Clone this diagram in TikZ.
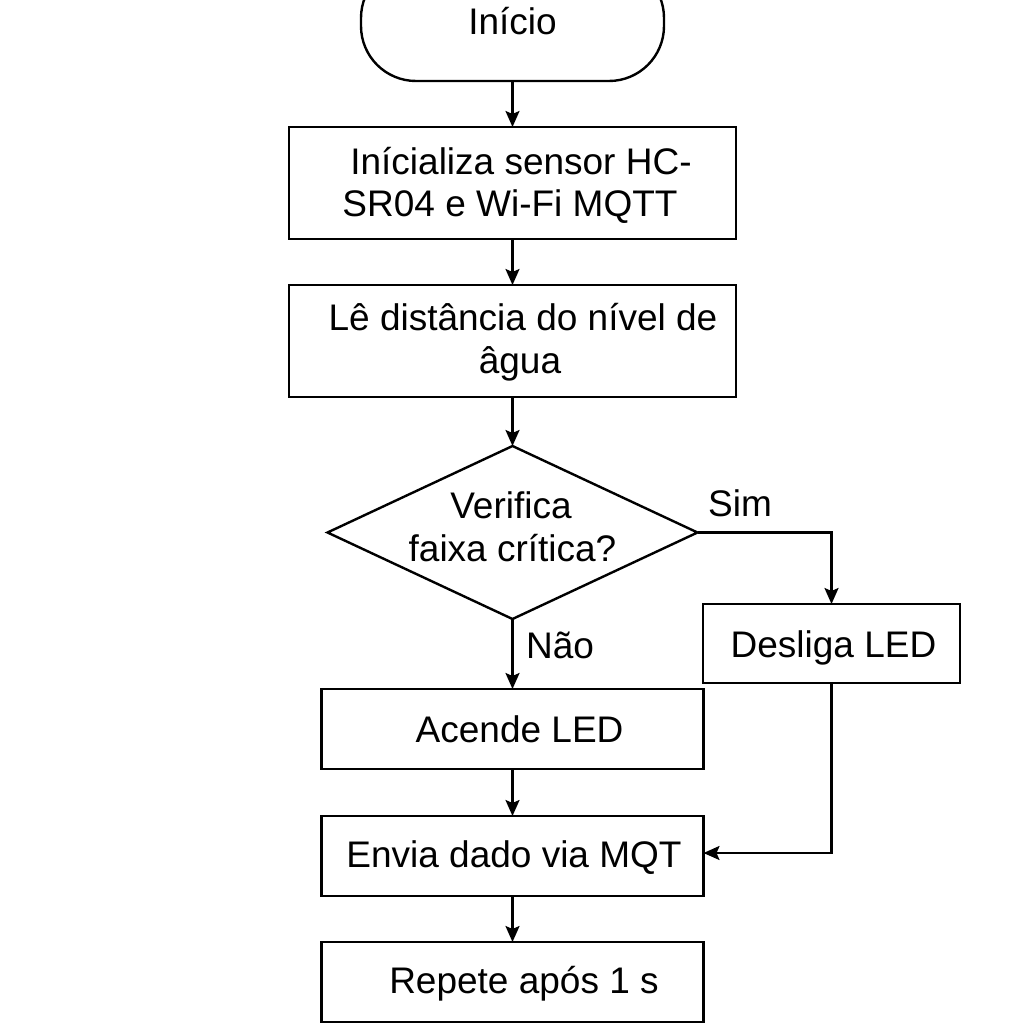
\documentclass[tikz,border=0pt]{standalone}
\usepackage{fontspec}
\setmainfont{Liberation Sans}
\usetikzlibrary{shapes.geometric,arrows.meta}
\begin{document}
\begin{tikzpicture}[x=1pt,y=-1pt,
  procbox/.style={draw, line width=2.4pt, rectangle, inner sep=0pt, outer sep=0pt},
  txt/.style={anchor=base, inner sep=0pt, font=\fontsize{37}{43}\selectfont},
  conn/.style={line width=2.2pt, -{Stealth[length=16pt,width=14pt,inset=3pt]}}]
\path[use as bounding box] (0,0) rectangle (1024,1024);
\clip (0,0) rectangle (1024,1024);
\fill[white] (0,0) rectangle (1024,1024);
% shapes
\node[procbox, rounded corners=55pt, minimum width=303pt, minimum height=118pt] (start) at (512.5,22) {};
\node[procbox, minimum width=447pt, minimum height=112pt] (init) at (512.5,183) {};
\node[procbox, minimum width=447pt, minimum height=112pt] (read) at (512.5,341) {};
\node[draw, line width=2.4pt, diamond, inner sep=0pt, outer sep=0pt, minimum width=370pt, minimum height=173pt] (dec) at (512.5,532.5) {};
\node[procbox, minimum width=257pt, minimum height=79pt] (off) at (831.5,643.5) {};
\node[procbox, minimum width=382pt, minimum height=80pt] (on) at (512.5,729) {};
\node[procbox, minimum width=382pt, minimum height=80pt] (send) at (512.5,856) {};
\node[procbox, minimum width=382pt, minimum height=80pt] (rep) at (512.5,982) {};
% texts
\node[txt] (tstart) at (512.5,35) {Início};
\node[txt] (tinit1) at (521,175) {Inícializa sensor HC-};
\node[txt] (tinit2) at (510,217) {SR04 e Wi-Fi MQTT};
\node[txt] (tread1) at (523,330) {Lê distância do nível de};
\node[txt] (tread2) at (520,373) {âgua};
\node[txt] (tdec1) at (511,518) {Verifica};
\node[txt] (tdec2) at (512.5,561) {faixa crítica?};
\node[txt, anchor=base west] (tsim) at (708,516) {Sim};
\node[txt, anchor=base west] (tnao) at (526,658) {Não};
\node[txt] (toff) at (833.5,657) {Desliga LED};
\node[txt] (ton) at (519.6,742) {Acende LED};
\node[txt] (tsend) at (514,867) {Envia dado via MQT};
\node[txt] (trep) at (524,993) {Repete após 1 s};
% connectors
\draw[conn] (start.south) -- (init.north);
\draw[conn] (init.south) -- (read.north);
\draw[conn] (read.south) -- (dec.north);
\draw[conn] (dec.east) -| (off.north);
\draw[conn] (dec.south) -- (on.north);
\draw[conn] (on.south) -- (send.north);
\draw[conn] (off.south) |- ([yshift=3pt]send.east);
\draw[conn] (send.south) -- (rep.north);
\end{tikzpicture}
\end{document}
